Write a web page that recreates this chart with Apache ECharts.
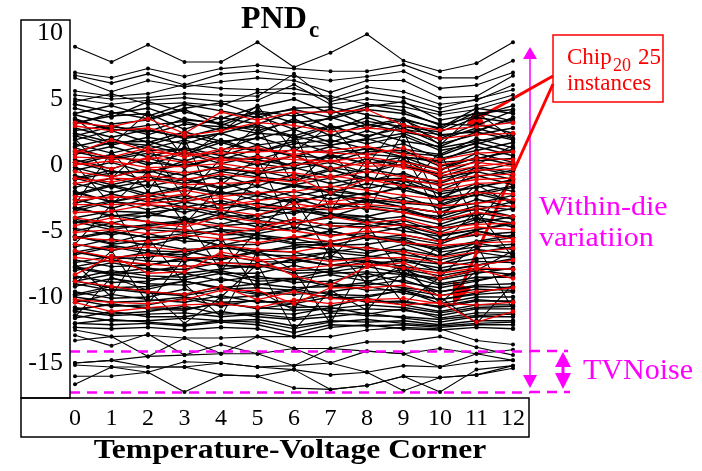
<!DOCTYPE html>
<html>
<head>
<meta charset="utf-8">
<script src="https://cdn.jsdelivr.net/npm/echarts@6/dist/echarts.min.js"></script>
<style>html,body{margin:0;background:#fff}#main{width:702px;height:471px}</style>
</head>
<body>
<div id="main"></div>
<script>
// 温度-电压角 0..12
var corners = [0,1,2,3,4,5,6,7,8,9,10,11,12];
var yTicks = [-15,-10,-5,0,5,10];
// 上方稀疏的线
var upperLines = [
	[8.96,7.8,9.1,7.8,7.8,9.3,7.4,8.5,9.9,7.9,7.1,7.7,9.3],
	[7.0,6.6,7.3,6.7,7.3,7.55,7.3,7.1,7.1,7.6,6.6,6.6,7.9],
	[6.8,6.2,6.9,6.05,6.9,7.1,6.7,6.4,6.7,7.1,5.8,6.05,7.0],
	[6.6,5.55,6.4,5.9,6.3,6.6,6.4,5.5,6.4,6.4,5.1,5.2,6.75],
	[5.6,5.2,5.4,6.1,5.8,5.7,5.8,5.0,5.9,5.55,4.6,4.9,6.05],
	[5.3,5.0,5.1,5.4,5.3,5.2,6.9,4.8,5.5,5.1,4.3,5.0,5.7],
	[5.0,4.6,4.9,5.1,4.8,4.9,6.1,4.6,5.0,4.7,4.0,4.5,5.3],
	[4.8,5.4,4.6,4.7,4.5,5.5,5.4,5.2,4.6,4.4,3.8,4.2,5.0]
];
// 中间密集带
var bandLines = [
	[4.3,3.6,4.8,4.0,3.5,4.4,5.0,3.9,4.6,4.1,3.0,3.7,4.5],
	[3.9,4.5,3.7,4.6,4.1,3.6,4.3,4.4,3.8,3.4,2.8,4.3,3.9],
	[3.8,3.1,3.4,4.2,3.0,4.0,3.2,3.5,4.2,3.9,3.1,3.0,4.1],
	[3.2,3.7,3.9,2.7,3.6,3.1,4.0,2.8,3.3,2.9,2.5,3.6,3.2],
	[3.5,2.6,3.0,3.3,2.6,3.7,2.7,3.6,2.8,3.4,2.2,2.6,3.5],
	[2.6,3.0,2.3,3.1,2.9,2.4,3.5,2.2,3.1,2.5,2.0,3.1,2.4],
	[2.8,2.1,2.7,2.0,2.4,3.1,2.0,2.9,2.2,2.8,1.6,2.3,2.8],
	[1.9,2.6,1.7,2.5,1.8,2.0,2.7,1.7,2.6,1.8,1.4,2.5,1.9],
	[2.2,1.5,2.1,1.6,2.4,1.5,1.9,2.3,1.6,2.2,1.1,1.6,2.3],
	[1.4,2.0,1.2,1.9,1.1,2.1,1.3,1.5,2.0,1.2,0.8,2.0,1.3],
	[1.6,0.9,1.5,0.8,1.7,1.0,1.8,0.9,1.2,1.6,0.5,1.1,1.7],
	[0.8,1.4,0.6,1.3,0.7,1.5,0.6,1.4,0.8,0.6,0.3,1.4,0.7],
	[1.0,0.4,0.9,0.3,1.1,0.4,1.2,0.2,1.0,1.1,-0.1,0.5,1.0],
	[0.2,0.8,0.0,0.9,0.1,0.7,-0.1,0.8,0.1,0.3,-0.4,0.9,0.2],
	[0.4,-0.3,0.5,-0.2,0.6,0.0,0.7,-0.4,0.5,-0.1,-0.7,0.3,0.5],
	[-0.4,0.2,-0.6,0.3,-0.5,0.1,-0.3,0.2,-0.6,0.4,-1.0,-0.5,0.1],
	[-0.2,-0.9,-0.3,-0.8,-0.1,-0.7,-0.2,-0.9,-0.3,-0.8,-1.3,-0.2,-0.8],
	[-1.0,-0.4,-1.2,-0.5,-1.1,-0.4,-1.0,-0.3,-1.2,-0.6,-1.6,-0.9,-0.4],
	[-0.8,-1.5,-0.9,-1.4,-0.8,-1.6,-0.7,-1.4,-0.9,-1.5,-1.9,-0.8,-1.5],
	[-1.7,-1.0,-1.6,-1.1,-1.8,-1.2,-1.5,-1.0,-1.8,-1.2,-2.2,-1.7,-1.1],
	[-1.4,-2.1,-1.5,-2.0,-1.3,-2.2,-1.6,-2.1,-1.4,-1.9,-2.5,-1.4,-2.0],
	[-2.3,-1.6,-2.4,-1.7,-2.2,-1.6,-2.4,-1.8,-2.3,-1.6,-2.7,-2.3,-1.7],
	[-2.0,-2.8,-2.1,-2.6,-2.0,-2.7,-2.0,-2.6,-2.1,-2.7,-3.0,-2.0,-2.7],
	[-2.9,-2.2,-2.8,-2.3,-3.0,-2.3,-2.9,-2.2,-2.9,-2.4,-3.3,-2.9,-2.3],
	[-2.6,-3.3,-2.5,-3.2,-2.7,-3.3,-2.5,-3.3,-2.6,-3.2,-3.6,-2.6,-3.2],
	[-3.5,-2.8,-3.0,-3.6,-2.9,-3.4,-3.7,-2.9,-3.3,-3.6,-3.9,-3.1,-3.4],
	[-3.3,-3.8,-3.9,-3.1,-3.7,-3.2,-3.4,-3.9,-3.1,-3.4,-4.2,-3.8,-3.3],
	[-4.0,-3.5,-3.6,-4.2,-3.4,-4.1,-3.5,-3.7,-4.2,-3.9,-4.5,-3.6,-4.1],
	[-4.3,-4.4,-3.8,-4.0,-4.5,-3.8,-4.4,-4.0,-3.9,-4.5,-4.8,-4.4,-3.9],
	[-4.1,-4.7,-4.6,-4.3,-4.0,-4.7,-4.1,-4.6,-4.7,-4.2,-5.1,-4.1,-4.7],
	[-5.0,-4.4,-4.9,-5.1,-4.6,-4.4,-5.0,-4.4,-4.5,-5.0,-5.4,-4.9,-4.5],
	[-4.8,-5.3,-4.7,-4.9,-5.3,-5.2,-4.7,-5.3,-5.2,-4.7,-5.7,-5.3,-5.1],
	[-5.6,-5.1,-5.5,-5.2,-5.0,-5.6,-5.5,-5.0,-5.6,-5.5,-6.0,-5.0,-5.5],
	[-5.4,-5.9,-5.2,-5.8,-5.7,-5.3,-5.9,-5.8,-5.3,-5.8,-6.3,-5.8,-5.3],
	[-6.2,-5.6,-6.1,-5.5,-6.1,-6.0,-5.6,-6.1,-6.0,-5.6,-6.6,-6.2,-6.0],
	[-6.0,-6.5,-5.9,-6.4,-6.3,-6.5,-6.3,-5.9,-6.5,-6.4,-6.9,-5.9,-6.4],
	[-6.8,-6.2,-6.7,-6.8,-6.1,-6.8,-6.9,-6.6,-6.2,-6.8,-7.2,-6.6,-6.2],
	[-6.6,-7.1,-7.0,-6.5,-7.1,-6.5,-6.6,-7.2,-7.0,-6.5,-7.5,-7.1,-6.9],
	[-7.4,-6.9,-7.3,-7.3,-6.8,-7.3,-7.4,-6.9,-7.4,-7.3,-7.8,-7.3,-7.4],
	[-7.2,-7.7,-7.6,-7.0,-7.6,-7.8,-7.1,-7.6,-7.7,-7.1,-8.1,-7.6,-7.1],
	[-8.0,-7.4,-7.9,-7.9,-7.4,-7.5,-8.0,-7.9,-7.3,-7.9,-8.4,-7.9,-7.9],
	[-7.8,-8.3,-8.1,-7.6,-8.2,-8.2,-7.6,-8.2,-8.1,-8.3,-8.7,-8.2,-7.8],
	[-8.6,-8.0,-8.4,-8.5,-8.0,-8.6,-8.6,-8.0,-8.5,-7.9,-9.0,-8.5,-8.5],
	[-8.4,-8.9,-8.8,-8.2,-8.8,-8.4,-8.9,-8.8,-8.2,-8.9,-9.3,-8.8,-8.2],
	[-9.2,-8.6,-9.0,-9.1,-8.6,-9.1,-8.6,-9.2,-9.1,-8.7,-9.6,-9.1,-9.0],
	[-9.0,-9.5,-9.4,-8.8,-9.4,-9.3,-9.5,-8.9,-9.5,-9.4,-9.9,-9.4,-9.5],
	[-9.8,-9.2,-9.6,-9.8,-9.2,-9.7,-9.8,-9.6,-9.2,-9.7,-10.2,-9.7,-9.2],
	[-9.6,-10.1,-10.0,-9.4,-10.1,-9.9,-9.5,-10.1,-10.0,-9.5,-10.5,-10.0,-10.0],
	[-10.4,-9.8,-10.2,-10.4,-9.9,-10.4,-10.3,-9.8,-10.4,-10.3,-10.8,-10.3,-10.3],
	[-10.2,-10.7,-10.6,-10.1,-10.7,-10.2,-10.8,-10.7,-10.1,-10.6,-11.1,-10.6,-10.6],
	[-11.0,-10.5,-10.9,-11.0,-10.4,-10.9,-10.5,-11.1,-10.9,-11.0,-11.4,-10.9,-10.9],
	[-10.8,-11.3,-11.1,-10.7,-11.3,-11.2,-11.3,-10.8,-11.3,-10.9,-11.6,-11.2,-11.2],
	[-11.6,-11.1,-11.5,-11.5,-11.1,-11.5,-11.7,-11.5,-11.2,-11.6,-11.9,-11.5,-11.5],
	[-11.4,-11.8,-11.8,-11.6,-11.8,-11.7,-12.2,-11.8,-11.9,-11.8,-12.1,-11.8,-11.8],
	[-12.0,-12.1,-12.0,-12.2,-11.9,-12.1,-12.7,-12.1,-12.2,-12.1,-12.3,-12.1,-12.1],
	[-12.3,-12.4,-12.3,-12.5,-12.3,-12.4,-13.0,-12.3,-12.1,-12.4,-12.5,-12.3,-12.4]
];
// 密集带 (第二组, 穿插在第一组之间)
var bandLines2 = [
	[4.6,4.0,3.5,4.3,4.7,3.8,4.2,3.6,4.4,4.8,3.4,3.9,4.2],
	[3.1,3.9,4.3,3.4,3.2,4.1,3.7,4.2,3.0,3.5,2.7,4.0,3.3],
	[3.4,2.7,2.5,3.5,3.1,2.6,3.3,2.6,3.6,2.7,2.3,2.5,3.6],
	[2.2,2.9,2.6,2.1,2.8,2.9,2.2,3.0,2.1,3.1,1.9,2.8,2.0],
	[2.4,1.7,1.5,2.3,1.6,2.4,2.2,1.5,1.9,2.4,1.3,1.8,2.3],
	[1.0,1.7,1.8,1.0,1.9,1.0,1.6,1.9,1.2,0.9,0.7,1.7,1.0],
	[1.3,0.5,1.1,1.2,0.4,1.2,0.7,0.5,1.3,0.6,0.2,0.4,1.2],
	[0.0,0.7,0.2,-0.1,0.6,0.4,-0.1,0.7,0.1,0.6,-0.4,0.6,0.0],
	[0.2,-0.5,-0.6,0.1,-0.3,-0.6,0.2,-0.2,-0.6,0.1,-0.9,-0.1,-0.6],
	[-1.1,-0.6,-0.4,-1.2,-0.5,-0.9,-1.2,-0.4,-1.0,-1.2,-1.4,-0.5,-1.1],
	[-1.0,-1.7,-1.2,-1.0,-1.7,-1.1,-1.6,-1.7,-1.1,-1.0,-2.0,-1.7,-1.2],
	[-2.2,-1.5,-2.2,-1.6,-2.1,-2.3,-1.5,-2.0,-2.3,-1.7,-2.5,-2.1,-1.6],
	[-2.1,-2.8,-2.3,-2.8,-2.2,-2.1,-2.8,-2.2,-2.6,-2.9,-3.1,-2.2,-2.8],
	[-3.3,-2.7,-3.4,-2.8,-3.3,-2.9,-3.3,-3.4,-2.7,-3.2,-3.6,-3.4,-2.8],
	[-3.2,-3.9,-3.6,-3.3,-3.9,-3.8,-3.2,-3.7,-3.9,-3.3,-4.1,-3.3,-3.9],
	[-4.4,-3.8,-4.3,-4.5,-3.7,-4.2,-4.5,-3.8,-4.3,-4.6,-4.7,-4.0,-4.4],
	[-4.3,-4.9,-4.5,-4.2,-4.9,-5.0,-4.4,-4.9,-4.3,-4.6,-5.3,-4.9,-4.4],
	[-5.5,-5.0,-5.5,-5.5,-4.9,-5.3,-5.6,-5.0,-5.6,-5.3,-5.8,-5.0,-5.5],
	[-5.4,-6.0,-5.7,-5.5,-6.1,-5.5,-6.0,-6.1,-5.5,-5.9,-6.4,-5.9,-5.5],
	[-6.6,-6.1,-6.5,-6.6,-6.0,-6.6,-6.1,-6.4,-6.7,-6.0,-6.9,-6.4,-6.7],
	[-6.5,-7.1,-6.6,-7.0,-7.2,-6.6,-7.2,-6.6,-6.9,-7.2,-7.5,-6.6,-7.0],
	[-7.7,-7.2,-7.6,-7.1,-7.6,-7.7,-7.2,-7.6,-7.2,-7.7,-8.0,-7.6,-7.2],
	[-7.7,-8.2,-7.8,-8.2,-7.9,-7.6,-8.2,-8.1,-7.7,-8.2,-8.6,-8.0,-8.3],
	[-8.8,-8.3,-8.6,-8.7,-8.2,-8.8,-8.7,-8.3,-8.8,-8.4,-9.1,-8.7,-8.3],
	[-8.8,-9.3,-9.2,-8.8,-9.3,-9.0,-9.3,-9.2,-8.9,-9.3,-9.6,-9.2,-9.3],
	[-9.9,-9.4,-9.7,-9.9,-9.4,-9.8,-9.4,-9.8,-9.9,-9.5,-10.2,-9.8,-9.6],
	[-10.0,-10.4,-10.3,-10.0,-10.4,-10.3,-10.5,-10.0,-10.3,-10.4,-10.7,-10.2,-10.4],
	[-10.9,-10.6,-10.8,-10.9,-10.5,-10.8,-11.0,-10.9,-10.6,-10.8,-11.2,-10.8,-10.7],
	[-11.1,-11.4,-11.3,-11.2,-11.5,-11.3,-11.6,-11.2,-11.4,-11.5,-11.7,-11.4,-11.3],
	[-12.0,-11.7,-11.9,-12.1,-11.8,-11.9,-12.4,-11.9,-11.7,-12.0,-12.2,-12.0,-11.9]
];
// 跨越很大的线
var crossLines = [
	[2.0,-1.0,1.5,-2.5,0.5,3.0,-1.5,1.0,-2.0,2.5,-3.0,0.0,1.5],
	[-3.0,1.0,-2.0,2.0,-4.0,-1.0,2.5,-3.5,0.5,-2.0,1.0,-4.5,-1.0],
	[-6.0,-3.0,-7.5,-4.0,-8.0,-5.0,-2.5,-7.0,-4.5,-8.5,-6.0,-3.5,-7.0],
	[-9.0,-6.5,-10.5,-7.0,-5.5,-9.5,-11.0,-6.0,-9.0,-7.5,-10.5,-8.0,-6.5],
	[-11.5,-8.5,-9.5,-12.0,-10.0,-7.5,-12.5,-9.5,-11.0,-8.0,-10.0,-12.0,-9.0],
	[3.5,1.5,4.0,0.5,2.5,4.5,1.0,3.0,0.0,3.5,1.5,4.0,2.0],
	[0.0,-3.0,-0.5,-4.5,-1.5,0.5,-5.0,-2.0,-3.5,1.0,-4.0,-1.5,-3.0],
	[-7.5,-10.0,-5.5,-9.0,-11.5,-6.5,-8.0,-12.0,-7.0,-10.5,-8.5,-6.0,-11.0]
];
// 下方稀疏的线
var lowerLines = [
	[-13.3,-13.0,-12.9,-13.1,-13.1,-13.0,-13.0,-13.0,-12.5,-12.3,-12.4,-13.3,-13.6],
	[-15.0,-14.8,-14.5,-14.4,-14.3,-14.3,-13.9,-13.9,-14.1,-14.3,-13.9,-14.3,-14.0],
	[-15.15,-15.3,-15.3,-15.3,-15.0,-15.3,-15.2,-15.0,-15.7,-15.2,-15.3,-14.9,-14.8],
	[-16.0,-16.0,-15.7,-17.2,-15.9,-16.0,-16.9,-17.0,-16.7,-16.0,-17.2,-15.5,-15.2],
	[-16.6,-15.3,-15.7,-14.9,-15.0,-15.3,-15.5,-15.9,-15.7,-17.1,-16.1,-15.9,-15.4],
	[-12.9,-13.7,-12.8,-14.4,-13.6,-14.3,-15.2,-13.9,-13.4,-13.4,-13.0,-13.8,-14.4],
	[-12.5,-13.0,-14.5,-13.1,-14.3,-13.0,-13.9,-15.0,-14.1,-14.3,-15.3,-14.3,-14.8],
	[-15.0,-14.8,-15.3,-15.3,-15.9,-16.0,-15.5,-17.0,-16.7,-16.0,-16.1,-15.9,-15.2]
];
// Chip20 的 25 个实例 (红线)
var chipLines = [
	[3.2,2.9,3.5,2.4,4.0,3.4,4.0,4.0,4.2,3.0,2.65,2.9,3.2],
	[2.95,2.6,2.8,2.2,2.6,3.2,3.0,2.5,2.8,2.6,2.0,2.3,2.4],
	[1.1,0.6,1.3,0.6,1.2,1.3,0.8,1.1,1.4,0.8,0.4,0.9,1.0],
	[0.9,1.9,1.0,0.8,0.9,1.0,1.1,0.9,0.8,1.3,0.0,0.5,0.4],
	[0.6,0.5,0.4,1.0,0.3,0.6,0.4,0.3,0.6,0.2,-0.3,0.2,-0.1],
	[0.2,-0.3,0.6,0.2,0.5,0.2,0.7,-0.3,0.2,-0.2,-0.8,-0.4,-0.3],
	[-0.5,-0.9,-0.3,-0.6,-0.2,-0.5,-0.6,-1.0,-0.5,-0.9,-1.2,-0.8,-0.7],
	[-1.4,-1.0,-1.1,-1.5,-1.4,-1.3,-0.9,-2.1,-1.1,-1.6,-1.9,-1.4,-1.3],
	[-2.4,-2.5,-2.3,-1.9,-2.4,-2.1,-2.0,-1.6,-1.9,-2.3,-2.6,-2.1,-2.2],
	[-2.7,-2.4,-2.6,-2.2,-3.1,-2.7,-2.4,-2.8,-2.4,-2.8,-3.1,-2.9,-2.6],
	[-3.6,-3.5,-3.0,-3.2,-3.4,-3.8,-2.9,-3.4,-3.2,-3.6,-4.2,-3.6,-3.9],
	[-4.6,-4.0,-4.3,-4.7,-3.9,-4.3,-4.5,-3.9,-4.4,-4.1,-4.8,-4.5,-4.4],
	[-5.1,-4.9,-5.2,-4.9,-5.3,-4.8,-5.0,-5.4,-5.0,-5.3,-5.8,-5.2,-5.6],
	[-5.5,-5.7,-5.8,-5.3,-5.6,-5.9,-5.4,-5.8,-5.4,-5.9,-6.1,-5.9,-5.8],
	[-6.0,-6.4,-6.2,-6.5,-6.1,-6.4,-6.6,-6.1,-6.3,-6.6,-7.0,-6.6,-6.3],
	[-6.5,-7.0,-6.8,-7.1,-6.9,-7.2,-7.0,-7.3,-7.1,-7.0,-7.4,-7.6,-7.2],
	[-7.0,-7.3,-7.5,-7.7,-7.4,-7.6,-7.9,-7.6,-7.5,-7.8,-8.2,-7.8,-7.9],
	[-8.3,-6.9,-8.2,-8.1,-6.6,-7.1,-8.4,-9.1,-7.7,-7.4,-8.6,-7.9,-8.6],
	[-10.2,-10.4,-10.5,-10.2,-9.5,-9.5,-10.5,-9.3,-9.3,-9.1,-9.9,-9.6,-9.3],
	[-10.4,-11.1,-10.8,-10.6,-10.5,-10.8,-10.2,-10.5,-10.2,-10.1,-10.5,-10.6,-10.4],
	[0.0,0.3,-0.2,-0.1,0.1,-0.3,0.0,0.3,-0.1,0.0,-0.6,-0.1,0.2],
	[-1.0,-1.3,-0.8,-1.1,-0.7,-1.0,-1.3,-0.8,-1.2,-1.1,-1.5,-1.1,-1.0],
	[-3.0,-3.0,-2.9,-2.7,-2.5,-3.1,-3.3,-2.9,-3.0,-3.2,-3.6,-3.3,-3.1],
	[-4.0,-4.4,-4.8,-4.4,-4.6,-4.9,-4.1,-4.6,-4.8,-4.5,-5.2,-4.7,-4.9],
	[-8.8,-9.2,-9.6,-9.8,-9.2,-10.2,-9.6,-10.1,-10.3,-10.6,-10.4,-11.9,-11.1]
];
// TVNoise 的上下界
var noiseBounds = [-14.1, -17.2];

var SERIF = 'Liberation Serif';
var MAG = '#ff00ff';
var RED = '#ff0000';

function makeSeries(rows, color, width, size){
	return rows.map(function(r){
		return {
			type:'line', silent:true, animation:false,
			data: r.map(function(v,i){ return [corners[i], v]; }),
			symbol:'circle', symbolSize:size, showSymbol:true,
			itemStyle:{color:color},
			lineStyle:{color:color, width:width}
		};
	});
}

// 箭头: 线段 + 三角形箭头
function arrow(x1,y1,x2,y2,len,half,color,w){
	var a = Math.atan2(y2-y1, x2-x1);
	var bx = x2 - len*Math.cos(a), by = y2 - len*Math.sin(a);
	var px = -Math.sin(a)*half, py = Math.cos(a)*half;
	return [
		{type:'line', shape:{x1:x1,y1:y1,x2:bx,y2:by}, style:{stroke:color,lineWidth:w}},
		{type:'polygon', shape:{points:[[x2,y2],[bx+px,by+py],[bx-px,by-py]]}, style:{fill:color}}
	];
}

var series = []
	.concat(makeSeries(upperLines, '#000', 1.1, 4))
	.concat(makeSeries(bandLines, '#000', 1.4, 4.5))
	.concat(makeSeries(bandLines2, '#000', 1.4, 4.5))
	.concat(makeSeries(crossLines, '#000', 1.1, 4))
	.concat(makeSeries(lowerLines, '#000', 1.1, 4))
	.concat(makeSeries(chipLines, '#f00000', 1.3, 4.5));
series[series.length-1].markLine = {
	silent:true, symbol:'none', animation:false, label:{show:false},
	lineStyle:{color:MAG, type:[10,7], width:2.5},
	data: noiseBounds.map(function(v){ return {yAxis:v}; })
};

var graphics = [
	// 轴标签框
	{type:'rect', shape:{x:21,y:20,width:49,height:378}, style:{fill:'none',stroke:'#000',lineWidth:1.5}, z:100},
	{type:'rect', shape:{x:21,y:398,width:508,height:39}, style:{fill:'none',stroke:'#000',lineWidth:1.5}, z:100},
	// 标题
	{type:'text', x:241, y:20, style:{text:'PND', font:'bold 32px '+SERIF, fill:'#000', verticalAlign:'middle'}},
	{type:'text', x:309, y:31, style:{text:'c', font:'bold 23px '+SERIF, fill:'#000', verticalAlign:'middle'}},
	{type:'text', x:290, y:451, scaleX:1.17, style:{text:'Temperature-Voltage Corner', font:'bold 27px '+SERIF, fill:'#000', align:'center', verticalAlign:'middle'}},
	// Chip20 标注框
	{type:'rect', shape:{x:553,y:35,width:110,height:67}, style:{fill:'#fff',stroke:RED,lineWidth:1.5}},
	{type:'text', x:567, y:58, style:{text:'Chip', font:'23px '+SERIF, fill:RED, verticalAlign:'middle'}},
	{type:'text', x:613, y:66, style:{text:'20', font:'18px '+SERIF, fill:RED, verticalAlign:'middle'}},
	{type:'text', x:638, y:58, style:{text:'25', font:'23px '+SERIF, fill:RED, verticalAlign:'middle'}},
	{type:'text', x:567, y:84, style:{text:'instances', font:'23px '+SERIF, fill:RED, verticalAlign:'middle'}},
	// 品红标注
	{type:'text', x:539, y:208, scaleX:1.07, style:{text:'Within-die', font:'28px '+SERIF, fill:MAG, verticalAlign:'middle'}},
	{type:'text', x:539, y:239, scaleX:1.07, style:{text:'variatiion', font:'28px '+SERIF, fill:MAG, verticalAlign:'middle'}},
	{type:'text', x:583, y:371, style:{text:'TVNoise', font:'30px '+SERIF, fill:MAG, verticalAlign:'middle'}},
	{type:'line', shape:{x1:530,y1:58,x2:530,y2:376}, style:{stroke:MAG,lineWidth:1.5}},
	{type:'polygon', shape:{points:[[530,47],[523,59],[537,59]]}, style:{fill:MAG}},
	{type:'polygon', shape:{points:[[530,388],[523,375],[537,375]]}, style:{fill:MAG}},
	{type:'polygon', shape:{points:[[563,352],[555,367],[571,367]]}, style:{fill:MAG}},
	{type:'polygon', shape:{points:[[563,389],[555,373],[571,373]]}, style:{fill:MAG}},
	{type:'line', shape:{x1:563,y1:366,x2:563,y2:374}, style:{stroke:MAG,lineWidth:3}},
	{type:'line', shape:{x1:530,y1:351,x2:568,y2:351}, style:{stroke:MAG,lineWidth:2.5,lineDash:[10,7]}},
	{type:'line', shape:{x1:530,y1:392,x2:570,y2:392}, style:{stroke:MAG,lineWidth:2.5,lineDash:[10,7]}}
]
	.concat(arrow(553,76,466,125,17,9,RED,3))
	.concat(arrow(553,84,453,305,22,10,RED,3));

var chart = echarts.init(document.getElementById('main'));
chart.setOption({
	animation:false,
	grid:{left:70, top:20, width:460, height:378},
	xAxis:{
		type:'value', min:-0.137, max:12.466,
		axisLine:{show:false}, axisTick:{show:false}, splitLine:{show:false},
		axisLabel:{customValues:corners, fontSize:24, fontFamily:SERIF, color:'#000', margin:9}
	},
	yAxis:{
		type:'value', min:-17.65, max:10.98,
		axisLine:{show:false}, axisTick:{show:false}, splitLine:{show:false},
		axisLabel:{customValues:yTicks, fontSize:26, fontFamily:SERIF, color:'#000', margin:7}
	},
	series:series,
	graphic:graphics
});
</script>
</body>
</html>
